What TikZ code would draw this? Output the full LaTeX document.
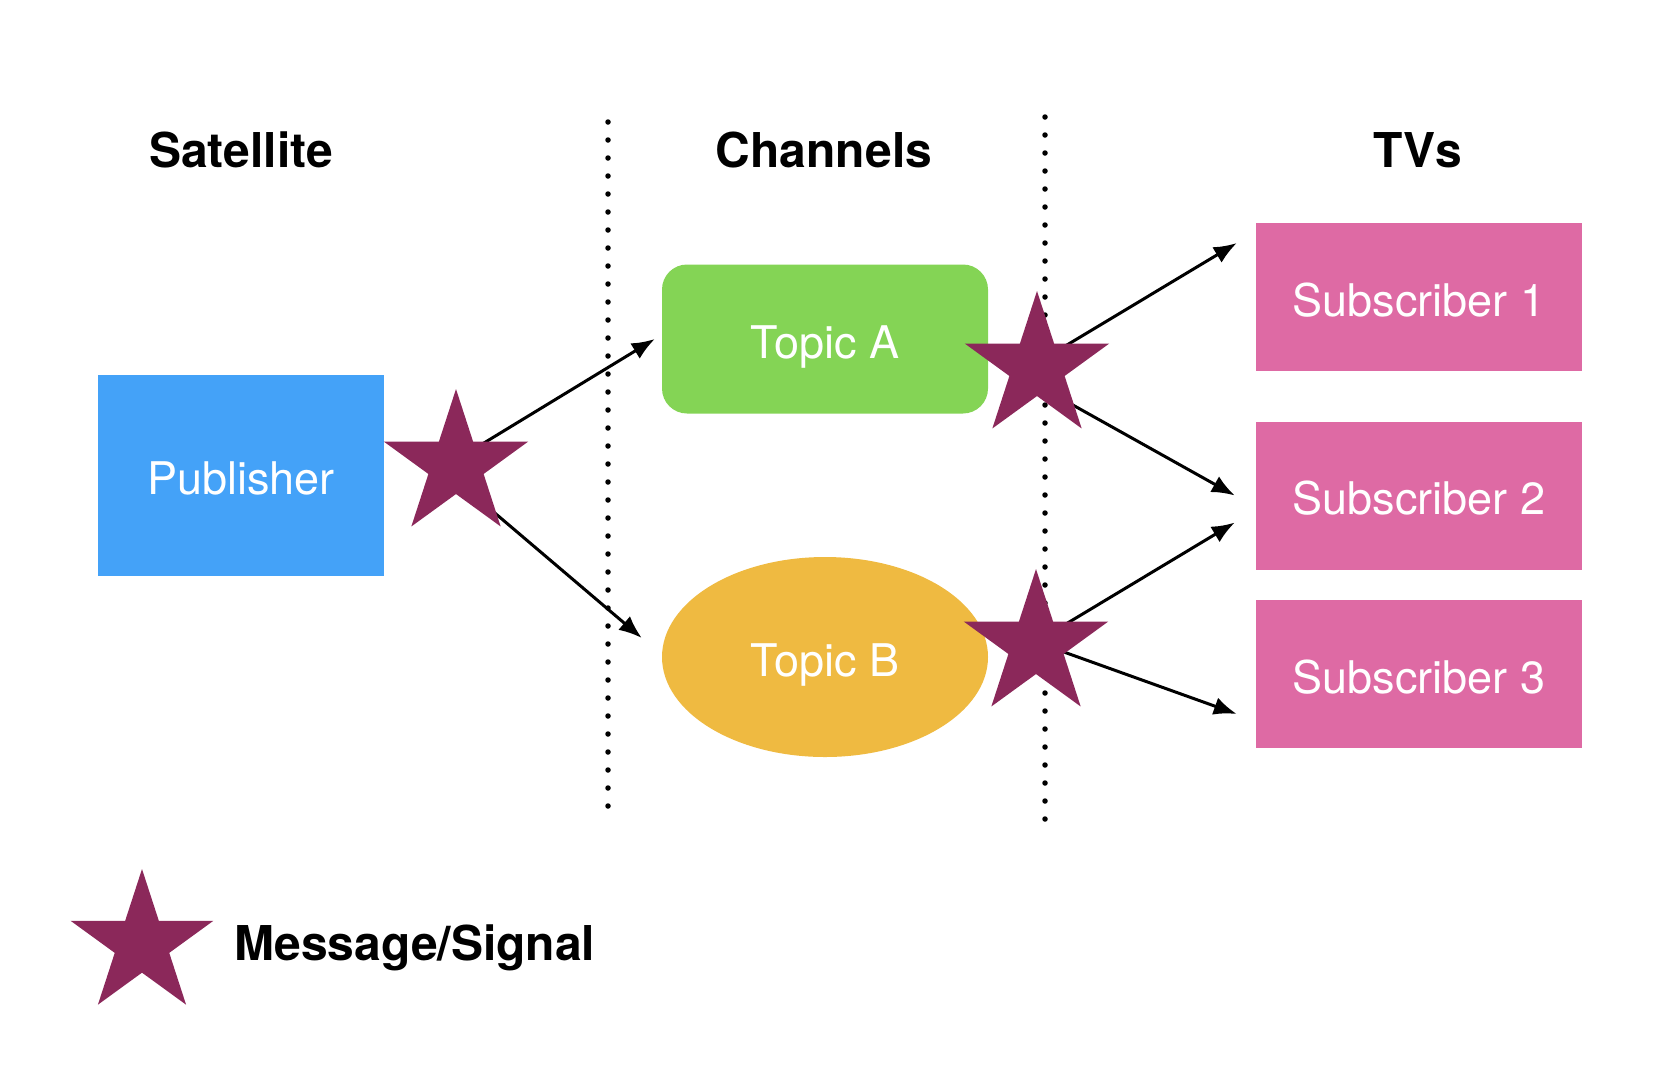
\documentclass[tikz,border=0pt]{standalone}
\usepackage{fontspec}
\setmainfont{TeX Gyre Heros}
\usepackage{xcolor}
\usepackage{tikz}
\usetikzlibrary{shapes.geometric,arrows.meta,calc}
\definecolor{pubblue}{RGB}{68,162,248}
\definecolor{topgreen}{RGB}{132,212,85}
\definecolor{topyellow}{RGB}{239,186,65}
\definecolor{subpink}{RGB}{222,106,164}
\definecolor{msgpurple}{RGB}{139,40,90}
\tikzset{
 box/.style={draw=none, inner sep=0pt, text=white, text height=38pt, text depth=0pt, font=\fontsize{45}{54}\selectfont},
 subbox/.style={box, fill=subpink, minimum width=326pt, minimum height=148pt},
 head/.style={anchor=base, font=\bfseries\fontsize{48}{58}\selectfont},
 msg/.style={star, star points=5, star point ratio=2.618, fill=msgpurple, inner sep=0pt, minimum size=152pt},
 sig/.style={line width=3pt, -{Latex[length=23pt,width=18pt]}},
 sepline/.style={line width=5.5pt, line cap=round, dash pattern=on 0pt off 18pt},
}

\begin{document}
\begin{tikzpicture}[x=1pt,y=-1pt]
\useasboundingbox (0,0) rectangle (1668,1072);
\node[head] (hsat) at (241,167) {Satellite};
\node[head] (hchan) at (824,167) {Channels};
\node[head] (htv) at (1418,167) {TVs};
\draw[sepline] (608,122) - - (608,812);
\draw[sepline] (1045,117) - - (1045,822);
\node[box, fill=pubblue, minimum width=286pt, minimum height=201pt] (pub) at (241,475.5) {Publisher};
\node[box, fill=topgreen, rounded corners=25pt, minimum width=326pt, minimum height=149pt] (topA) at (825,339) {Topic A};
\node[box, fill=topyellow, ellipse, minimum width=326pt, minimum height=200pt] (topB) at (825,657) {Topic B};
\node[subbox] (sub1) at (1419,297) {Subscriber 1};
\node[subbox] (sub2) at (1419,495.5) {Subscriber 2};
\node[subbox] (sub3) at (1419,674) {Subscriber 3};
\coordinate (msgP) at (456,465);
\coordinate (msgA) at (1037,367);
\coordinate (msgB) at (1036,645);
\draw[sig] ([yshift=5pt]msgP) - - ([xshift=-7pt]topA.west);
\draw[sig] ([yshift=-15pt]msgP) - - ($(topB.west)+(-20,-19)$);
\draw[sig] ([yshift=4pt]msgA) - - ($(sub1.west)+(-19,-54)$);
\draw[sig] ([yshift=-18pt]msgA) - - ($(sub2.west)+(-21,0)$);
\draw[sig] ([yshift=3pt]msgB) - - ($(sub2.west)+(-21,27)$);
\draw[sig] ([yshift=3pt]msgB) - - ($(sub3.west)+(-19,40)$);
\node[msg] (starP) at (msgP) {};
\node[msg] (starA) at (msgA) {};
\node[msg] (starB) at (msgB) {};
\node[msg, minimum size=150pt] (starL) at (142,944) {};
\node[anchor=base west, font=\bfseries\fontsize{48}{58}\selectfont] (legend) at (231,960) {Message/Signal};
\end{tikzpicture}
\end{document}
